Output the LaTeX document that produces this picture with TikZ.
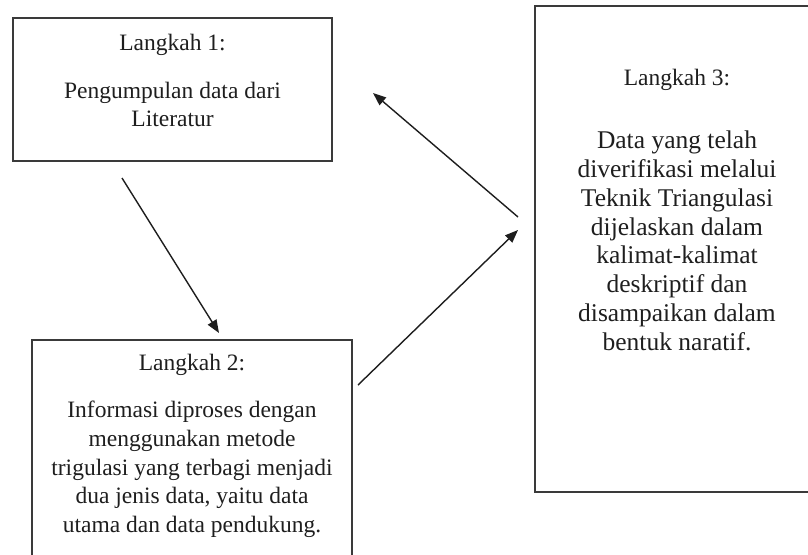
\documentclass[tikz,border=0pt]{standalone}
\usepackage{fontspec}
\setmainfont{Liberation Serif}
\usetikzlibrary{arrows.meta}
\definecolor{ink}{HTML}{1E1E1E}
\definecolor{frame}{HTML}{3A3A3A}
\tikzset{
  box/.style={draw=frame, line width=1.6pt, rectangle, inner sep=0pt},
  head/.style={text=ink, inner sep=0pt, anchor=base, font=\fontsize{23.5}{28}\selectfont},
  body/.style={text=ink, inner sep=0pt, anchor=north, align=center},
  conn/.style={draw=ink, line width=1.4pt, -{Triangle[length=13pt,width=10pt]}}
}
\begin{document}
\begin{tikzpicture}[x=1pt,y=-1pt]
\useasboundingbox (0,0) rectangle (808,554);
\clip (0,0) rectangle (808,554);
% boxes
\node[box, minimum width=319pt, minimum height=143pt] (b1) at (172.5,89.5) {};
\node[box, minimum width=320pt, minimum height=240pt] (b2) at (192,460) {};
\node[box, minimum width=285pt, minimum height=486pt] (b3) at (677.5,249) {};
% box 1 text
\node[head] (h1) at (172.5,50) {Langkah 1:};
\node[body, font=\fontsize{23.5}{27.5}\selectfont] (t1) at (172.5,82) {Pengumpulan data dari\\Literatur};
% box 2 text
\node[head] (h2) at (192,370) {Langkah 2:};
\node[body, font=\fontsize{23.5}{28.7}\selectfont] (t2) at (192,401) {Informasi diproses dengan\\menggunakan metode\\trigulasi yang terbagi menjadi\\dua jenis data, yaitu data\\utama dan data pendukung.};
% box 3 text
\node[head] (h3) at (677,85) {Langkah 3:};
\node[body, font=\fontsize{25.5}{28.9}\selectfont] (t3) at (677,130.5) {Data yang telah\\diverifikasi melalui\\Teknik Triangulasi\\dijelaskan dalam\\kalimat-kalimat\\deskriptif dan\\disampaikan dalam\\bentuk naratif.};
% connector end points
\coordinate (a1s) at (122,178);
\coordinate (a1e) at (219,333);
\coordinate (a2s) at (358,385);
\coordinate (a2e) at (518,230);
\coordinate (a3s) at (518,217);
\coordinate (a3e) at (373,93);
\draw[conn] (a1s) -- (a1e);
\draw[conn] (a2s) -- (a2e);
\draw[conn] (a3s) -- (a3e);
\end{tikzpicture}
\end{document}
